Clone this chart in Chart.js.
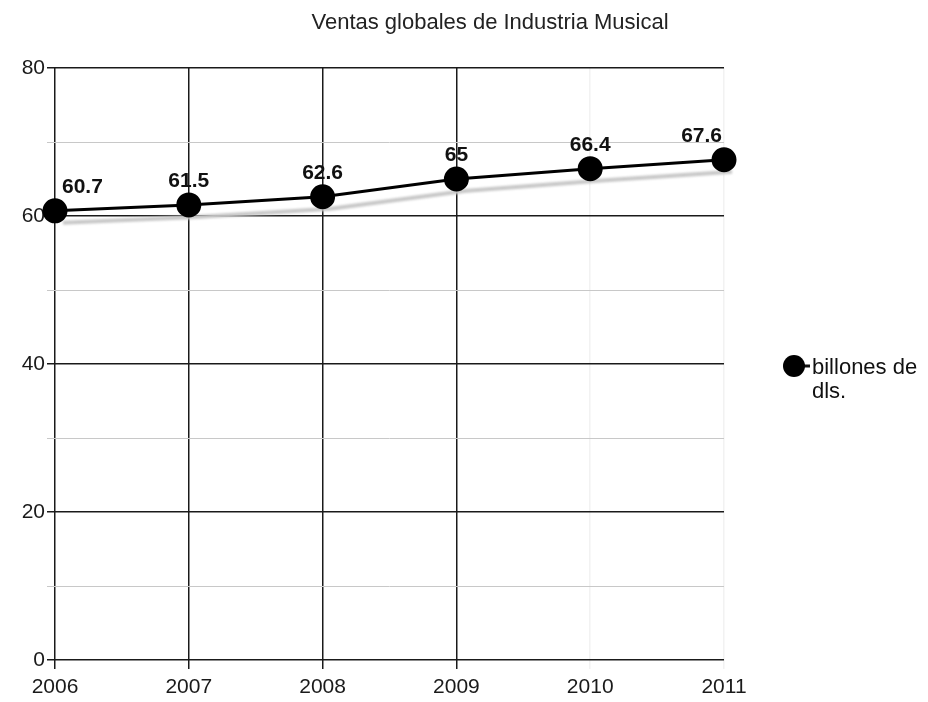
<!DOCTYPE html>
<html>
<head>
<meta charset="utf-8">
<title>Ventas globales de Industria Musical</title>
<style>
  html, body { margin: 0; padding: 0; background: #fff; }
  #wrap { width: 928px; height: 702px; }
</style>
</head>
<body>
<div id="wrap"><canvas id="chart" width="928" height="702"></canvas></div>
<script src="https://cdn.jsdelivr.net/npm/chart.js@4"></script>
<script>
const titleText = 'Ventas globales de Industria Musical';
const years = ['2006', '2007', '2008', '2009', '2010', '2011'];
const ventas = [60.7, 61.5, 62.6, 65, 66.4, 67.6];
const serieNombre = ['billones de', 'dls.'];
const yMin = 0, yMax = 80, yStep = 10, yLabelStep = 20;

const FONT = '"Liberation Sans", Arial, sans-serif';

// gray copy of the line, shifted down a bit, drawn underneath
const shadowPlugin = {
  id: 'shadow',
  beforeDatasetDraw(chart, args) {
    if (args.index !== 1) return;
    const ctx = chart.ctx;
    ctx.save();
    ctx.translate(8, 12);
    ctx.filter = 'blur(1.2px)';
  },
  afterDatasetDraw(chart, args) {
    if (args.index !== 1) return;
    chart.ctx.restore();
  }
};

// value labels above each point, kept inside the plot area
const valueLabels = {
  id: 'valueLabels',
  afterDatasetsDraw(chart) {
    const ctx = chart.ctx;
    const area = chart.chartArea;
    const meta = chart.getDatasetMeta(0);
    ctx.save();
    ctx.font = 'bold 21px ' + FONT;
    ctx.fillStyle = '#111';
    ctx.textBaseline = 'alphabetic';
    ctx.textAlign = 'center';
    meta.data.forEach((pt, i) => {
      const txt = String(ventas[i]);
      const w = ctx.measureText(txt).width;
      let x = pt.x;
      x = Math.max(area.left + 7 + w / 2, Math.min(area.right - 2 - w / 2, x));
      ctx.fillText(txt, x, pt.y - 18);
    });
    ctx.restore();
  }
};

// title and legend drawn by hand
const decor = {
  id: 'decor',
  afterDraw(chart) {
    const ctx = chart.ctx;
    ctx.save();
    ctx.fillStyle = '#222';
    ctx.font = '22px ' + FONT;
    ctx.textAlign = 'center';
    ctx.textBaseline = 'alphabetic';
    ctx.fillText(titleText, 490, 29);

    // legend
    const lx = 794, ly = 366;
    ctx.strokeStyle = '#111';
    ctx.lineWidth = 3;
    ctx.beginPath();
    ctx.moveTo(lx, ly);
    ctx.lineTo(lx + 16, ly);
    ctx.stroke();
    ctx.fillStyle = '#000';
    ctx.beginPath();
    ctx.arc(lx, ly, 11, 0, Math.PI * 2);
    ctx.fill();
    ctx.fillStyle = '#111';
    ctx.font = '22px ' + FONT;
    ctx.textAlign = 'left';
    serieNombre.forEach((t, i) => ctx.fillText(t, 812, 374 + i * 24));
    ctx.restore();
  }
};

new Chart(document.getElementById('chart'), {
  type: 'line',
  data: {
    labels: years,
    datasets: [
      {
        label: serieNombre.join(' '),
        data: ventas,
        borderColor: '#000',
        borderWidth: 3,
        backgroundColor: '#000',
        pointBackgroundColor: '#000',
        pointBorderColor: '#000',
        pointRadius: 11,
        pointHoverRadius: 11,
        tension: 0
      },
      {
        label: 'sombra',
        data: ventas,
        borderColor: '#c8c8c8',
        borderWidth: 4,
        pointRadius: 0,
        pointHoverRadius: 0,
        tension: 0
      }
    ]
  },
  options: {
    responsive: false,
    animation: false,
    events: [],
    layout: { padding: { top: 68, right: 204, left: 0, bottom: 0 } },
    plugins: {
      legend: { display: false },
      title: { display: false },
      tooltip: { enabled: false }
    },
    scales: {
      x: {
        offset: false,
        grid: {
          color: ctx => (ctx.index <= 3 ? '#1a1a1a' : '#f2f2f2'),
          lineWidth: 1.5,
          tickLength: 9,
          drawOnChartArea: true
        },
        border: { display: false },
        ticks: {
          color: '#1a1a1a',
          font: { family: FONT, size: 21 },
          maxRotation: 0,
          padding: 6
        },
        afterFit: s => { s.height = 42; }
      },
      y: {
        min: yMin,
        max: yMax,
        grid: {
          color: ctx => (ctx.tick && ctx.tick.value % yLabelStep === 0 ? '#1a1a1a' : '#c8c8c8'),
          lineWidth: ctx => (ctx.tick && ctx.tick.value % yLabelStep === 0 ? 1.5 : 1),
          tickLength: 8
        },
        border: { display: false },
        ticks: {
          stepSize: yStep,
          color: '#1a1a1a',
          font: { family: FONT, size: 21 },
          padding: 2,
          callback: v => (v % yLabelStep === 0 ? v : '')
        },
        afterFit: s => { s.width = 55; }
      }
    }
  },
  plugins: [shadowPlugin, valueLabels, decor]
});
</script>
</body>
</html>
